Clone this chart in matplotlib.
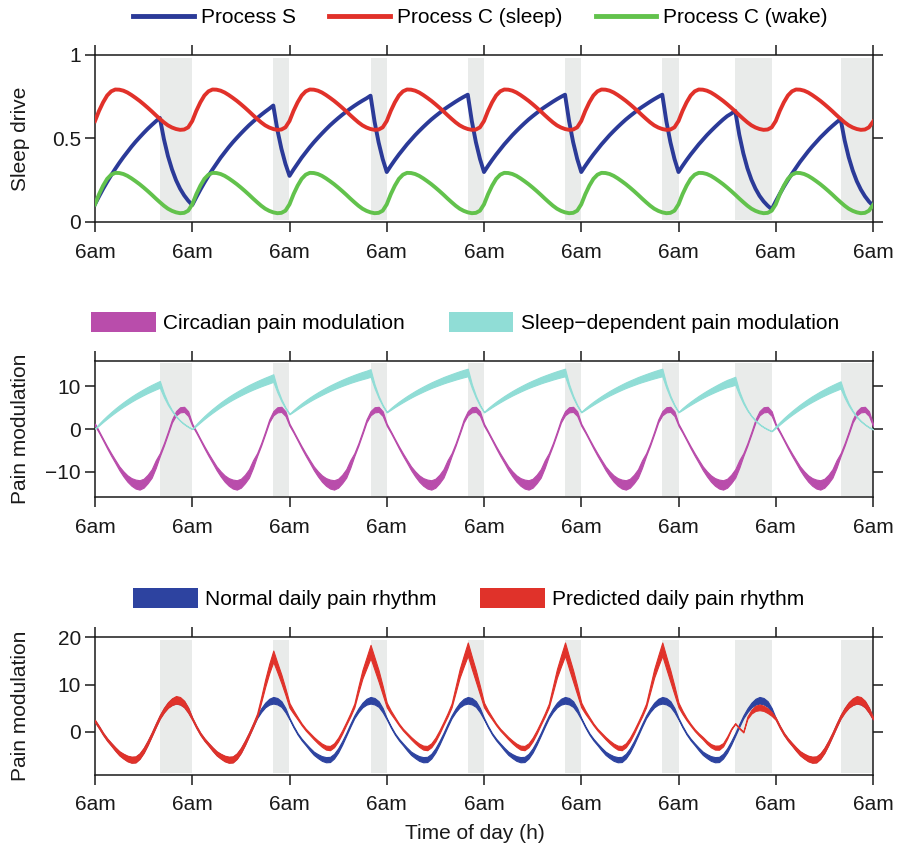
import matplotlib
matplotlib.use('Agg')
import matplotlib.pyplot as plt
from matplotlib.patches import Patch
from matplotlib.lines import Line2D
import numpy as np

plt.rcParams['font.family'] = ['Liberation Sans', 'DejaVu Sans']

# ---------------- data (hourly samples, hour 0 = 6am of day 1) ----------------
hours = list(range(0, 193))

sleep_start = [16, 44, 68, 92, 116, 140, 158, 184]
sleep_end = [24, 48, 72, 96, 120, 144, 167, 192]

day_ticks = [0, 24, 48, 72, 96, 120, 144, 168, 192]
day_labels = ['6am'] * 9

process_s = [
    0.105, 0.152, 0.197, 0.239, 0.279, 0.317, 0.353, 0.387, 0.419, 0.450, 0.479, 0.506, 0.532, 0.557, 0.580, 0.602, 0.623, 0.496, 0.394, 0.314, 0.249, 0.198, 0.158, 0.126,
    0.100, 0.147, 0.192, 0.235, 0.275, 0.313, 0.349, 0.384, 0.416, 0.447, 0.476, 0.503, 0.529, 0.554, 0.578, 0.600, 0.621, 0.641, 0.660, 0.678, 0.697, 0.552, 0.438, 0.347,
    0.275, 0.313, 0.349, 0.384, 0.416, 0.447, 0.476, 0.503, 0.529, 0.554, 0.578, 0.600, 0.621, 0.641, 0.660, 0.678, 0.695, 0.711, 0.726, 0.740, 0.756, 0.599, 0.475, 0.376,
    0.298, 0.335, 0.370, 0.403, 0.434, 0.464, 0.492, 0.519, 0.544, 0.568, 0.591, 0.613, 0.633, 0.652, 0.671, 0.688, 0.704, 0.720, 0.735, 0.749, 0.762, 0.603, 0.477, 0.377,
    0.298, 0.335, 0.370, 0.403, 0.434, 0.464, 0.492, 0.519, 0.544, 0.568, 0.591, 0.613, 0.633, 0.652, 0.671, 0.688, 0.704, 0.720, 0.735, 0.749, 0.762, 0.603, 0.477, 0.377,
    0.298, 0.335, 0.370, 0.403, 0.434, 0.464, 0.492, 0.519, 0.544, 0.568, 0.591, 0.613, 0.633, 0.652, 0.671, 0.688, 0.704, 0.720, 0.735, 0.749, 0.762, 0.603, 0.477, 0.377,
    0.298, 0.335, 0.370, 0.403, 0.434, 0.464, 0.492, 0.519, 0.544, 0.568, 0.591, 0.613, 0.633, 0.648, 0.665, 0.522, 0.410, 0.321, 0.252, 0.198, 0.155, 0.122, 0.096, 0.075,
    0.122, 0.167, 0.210, 0.250, 0.288, 0.324, 0.359, 0.391, 0.422, 0.451, 0.478, 0.505, 0.529, 0.553, 0.575, 0.596, 0.616, 0.488, 0.387, 0.307, 0.243, 0.193, 0.153, 0.121,
    0.096]

process_c_sleep = [
    0.604, 0.665, 0.716, 0.757, 0.782, 0.793, 0.792, 0.786, 0.775, 0.760, 0.743, 0.725, 0.705, 0.684, 0.662, 0.639, 0.617, 0.596, 0.578, 0.565, 0.556, 0.551, 0.553, 0.566,
    0.604, 0.665, 0.716, 0.757, 0.782, 0.793, 0.792, 0.786, 0.775, 0.760, 0.743, 0.725, 0.705, 0.684, 0.662, 0.639, 0.617, 0.596, 0.578, 0.565, 0.556, 0.551, 0.553, 0.566,
    0.604, 0.665, 0.716, 0.757, 0.782, 0.793, 0.792, 0.786, 0.775, 0.760, 0.743, 0.725, 0.705, 0.684, 0.662, 0.639, 0.617, 0.596, 0.578, 0.565, 0.556, 0.551, 0.553, 0.566,
    0.604, 0.665, 0.716, 0.757, 0.782, 0.793, 0.792, 0.786, 0.775, 0.760, 0.743, 0.725, 0.705, 0.684, 0.662, 0.639, 0.617, 0.596, 0.578, 0.565, 0.556, 0.551, 0.553, 0.566,
    0.604, 0.665, 0.716, 0.757, 0.782, 0.793, 0.792, 0.786, 0.775, 0.760, 0.743, 0.725, 0.705, 0.684, 0.662, 0.639, 0.617, 0.596, 0.578, 0.565, 0.556, 0.551, 0.553, 0.566,
    0.604, 0.665, 0.716, 0.757, 0.782, 0.793, 0.792, 0.786, 0.775, 0.760, 0.743, 0.725, 0.705, 0.684, 0.662, 0.639, 0.617, 0.596, 0.578, 0.565, 0.556, 0.551, 0.553, 0.566,
    0.604, 0.665, 0.716, 0.757, 0.782, 0.793, 0.792, 0.786, 0.775, 0.760, 0.743, 0.725, 0.705, 0.684, 0.662, 0.639, 0.617, 0.596, 0.578, 0.565, 0.556, 0.551, 0.553, 0.566,
    0.604, 0.665, 0.716, 0.757, 0.782, 0.793, 0.792, 0.786, 0.775, 0.760, 0.743, 0.725, 0.705, 0.684, 0.662, 0.639, 0.617, 0.596, 0.578, 0.565, 0.556, 0.551, 0.553, 0.566,
    0.600]

process_c_wake = [
    0.104, 0.165, 0.216, 0.257, 0.282, 0.293, 0.292, 0.286, 0.275, 0.260, 0.243, 0.225, 0.205, 0.184, 0.162, 0.139, 0.117, 0.096, 0.078, 0.065, 0.056, 0.051, 0.053, 0.066,
    0.104, 0.165, 0.216, 0.257, 0.282, 0.293, 0.292, 0.286, 0.275, 0.260, 0.243, 0.225, 0.205, 0.184, 0.162, 0.139, 0.117, 0.096, 0.078, 0.065, 0.056, 0.051, 0.053, 0.066,
    0.104, 0.165, 0.216, 0.257, 0.282, 0.293, 0.292, 0.286, 0.275, 0.260, 0.243, 0.225, 0.205, 0.184, 0.162, 0.139, 0.117, 0.096, 0.078, 0.065, 0.056, 0.051, 0.053, 0.066,
    0.104, 0.165, 0.216, 0.257, 0.282, 0.293, 0.292, 0.286, 0.275, 0.260, 0.243, 0.225, 0.205, 0.184, 0.162, 0.139, 0.117, 0.096, 0.078, 0.065, 0.056, 0.051, 0.053, 0.066,
    0.104, 0.165, 0.216, 0.257, 0.282, 0.293, 0.292, 0.286, 0.275, 0.260, 0.243, 0.225, 0.205, 0.184, 0.162, 0.139, 0.117, 0.096, 0.078, 0.065, 0.056, 0.051, 0.053, 0.066,
    0.104, 0.165, 0.216, 0.257, 0.282, 0.293, 0.292, 0.286, 0.275, 0.260, 0.243, 0.225, 0.205, 0.184, 0.162, 0.139, 0.117, 0.096, 0.078, 0.065, 0.056, 0.051, 0.053, 0.066,
    0.104, 0.165, 0.216, 0.257, 0.282, 0.293, 0.292, 0.286, 0.275, 0.260, 0.243, 0.225, 0.205, 0.184, 0.162, 0.139, 0.117, 0.096, 0.078, 0.065, 0.056, 0.051, 0.053, 0.066,
    0.104, 0.165, 0.216, 0.257, 0.282, 0.293, 0.292, 0.286, 0.275, 0.260, 0.243, 0.225, 0.205, 0.184, 0.162, 0.139, 0.117, 0.096, 0.078, 0.065, 0.056, 0.051, 0.053, 0.066,
    0.100]

circadian_mid = [
    1.0, -0.7, -2.5, -4.3, -6.0, -7.6, -9.2, -10.5, -11.6, -12.4, -12.9, -13.1, -12.7, -11.7, -10.4, -8.2, -6.0, -3.6, -0.9, 1.9, 3.7, 4.5, 4.6, 3.6,
    1.0, -0.7, -2.5, -4.3, -6.0, -7.6, -9.2, -10.5, -11.6, -12.4, -12.9, -13.1, -12.7, -11.7, -10.4, -8.2, -6.0, -3.6, -0.9, 1.9, 3.7, 4.5, 4.6, 3.6,
    1.0, -0.7, -2.5, -4.3, -6.0, -7.6, -9.2, -10.5, -11.6, -12.4, -12.9, -13.1, -12.7, -11.7, -10.4, -8.2, -6.0, -3.6, -0.9, 1.9, 3.7, 4.5, 4.6, 3.6,
    1.0, -0.7, -2.5, -4.3, -6.0, -7.6, -9.2, -10.5, -11.6, -12.4, -12.9, -13.1, -12.7, -11.7, -10.4, -8.2, -6.0, -3.6, -0.9, 1.9, 3.7, 4.5, 4.6, 3.6,
    1.0, -0.7, -2.5, -4.3, -6.0, -7.6, -9.2, -10.5, -11.6, -12.4, -12.9, -13.1, -12.7, -11.7, -10.4, -8.2, -6.0, -3.6, -0.9, 1.9, 3.7, 4.5, 4.6, 3.6,
    1.0, -0.7, -2.5, -4.3, -6.0, -7.6, -9.2, -10.5, -11.6, -12.4, -12.9, -13.1, -12.7, -11.7, -10.4, -8.2, -6.0, -3.6, -0.9, 1.9, 3.7, 4.5, 4.6, 3.6,
    1.0, -0.7, -2.5, -4.3, -6.0, -7.6, -9.2, -10.5, -11.6, -12.4, -12.9, -13.1, -12.7, -11.7, -10.4, -8.2, -6.0, -3.6, -0.9, 1.9, 3.7, 4.5, 4.6, 3.6,
    1.0, -0.7, -2.5, -4.3, -6.0, -7.6, -9.2, -10.5, -11.6, -12.4, -12.9, -13.1, -12.7, -11.7, -10.4, -8.2, -6.0, -3.6, -0.9, 1.9, 3.7, 4.5, 4.6, 3.6,
    1.0]
circadian_half = [
    0.25, 0.2, 0.2, 0.25, 0.3, 0.35, 0.45, 0.6, 0.75, 0.9, 1.05, 1.1, 1.05, 1.0, 1.0, 0.9, 0.35, 0.3, 0.3, 0.35, 0.5, 0.6, 0.6, 0.55,
    0.25, 0.2, 0.2, 0.25, 0.3, 0.35, 0.45, 0.6, 0.75, 0.9, 1.05, 1.1, 1.05, 1.0, 1.0, 0.9, 0.35, 0.3, 0.3, 0.35, 0.5, 0.6, 0.6, 0.55,
    0.25, 0.2, 0.2, 0.25, 0.3, 0.35, 0.45, 0.6, 0.75, 0.9, 1.05, 1.1, 1.05, 1.0, 1.0, 0.9, 0.35, 0.3, 0.3, 0.35, 0.5, 0.6, 0.6, 0.55,
    0.25, 0.2, 0.2, 0.25, 0.3, 0.35, 0.45, 0.6, 0.75, 0.9, 1.05, 1.1, 1.05, 1.0, 1.0, 0.9, 0.35, 0.3, 0.3, 0.35, 0.5, 0.6, 0.6, 0.55,
    0.25, 0.2, 0.2, 0.25, 0.3, 0.35, 0.45, 0.6, 0.75, 0.9, 1.05, 1.1, 1.05, 1.0, 1.0, 0.9, 0.35, 0.3, 0.3, 0.35, 0.5, 0.6, 0.6, 0.55,
    0.25, 0.2, 0.2, 0.25, 0.3, 0.35, 0.45, 0.6, 0.75, 0.9, 1.05, 1.1, 1.05, 1.0, 1.0, 0.9, 0.35, 0.3, 0.3, 0.35, 0.5, 0.6, 0.6, 0.55,
    0.25, 0.2, 0.2, 0.25, 0.3, 0.35, 0.45, 0.6, 0.75, 0.9, 1.05, 1.1, 1.05, 1.0, 1.0, 0.9, 0.35, 0.3, 0.3, 0.35, 0.5, 0.6, 0.6, 0.55,
    0.25, 0.2, 0.2, 0.25, 0.3, 0.35, 0.45, 0.6, 0.75, 0.9, 1.05, 1.1, 1.05, 1.0, 1.0, 0.9, 0.35, 0.3, 0.3, 0.35, 0.5, 0.6, 0.6, 0.55,
    0.25]

sleepdep_mid = [
    0.10, 1.04, 1.94, 2.78, 3.58, 4.34, 5.06, 5.74, 6.38, 7.00, 7.58, 8.12, 8.64, 9.14, 9.60, 10.04, 10.46, 7.92, 5.88, 4.28, 2.98, 1.96, 1.16, 0.52,
    0.00, 0.94, 1.84, 2.70, 3.50, 4.26, 4.98, 5.68, 6.32, 6.94, 7.52, 8.06, 8.58, 9.08, 9.56, 10.00, 10.42, 10.82, 11.20, 11.56, 11.94, 9.04, 6.76, 4.94,
    3.50, 4.26, 4.98, 5.68, 6.32, 6.94, 7.52, 8.06, 8.58, 9.08, 9.56, 10.00, 10.42, 10.82, 11.20, 11.56, 11.90, 12.22, 12.52, 12.80, 13.12, 9.98, 7.50, 5.52,
    3.96, 4.70, 5.40, 6.06, 6.68, 7.28, 7.84, 8.38, 8.88, 9.36, 9.82, 10.26, 10.66, 11.04, 11.42, 11.76, 12.08, 12.40, 12.70, 12.98, 13.24, 10.06, 7.54, 5.54,
    3.96, 4.70, 5.40, 6.06, 6.68, 7.28, 7.84, 8.38, 8.88, 9.36, 9.82, 10.26, 10.66, 11.04, 11.42, 11.76, 12.08, 12.40, 12.70, 12.98, 13.24, 10.06, 7.54, 5.54,
    3.96, 4.70, 5.40, 6.06, 6.68, 7.28, 7.84, 8.38, 8.88, 9.36, 9.82, 10.26, 10.66, 11.04, 11.42, 11.76, 12.08, 12.40, 12.70, 12.98, 13.24, 10.06, 7.54, 5.54,
    3.96, 4.70, 5.40, 6.06, 6.68, 7.28, 7.84, 8.38, 8.88, 9.36, 9.82, 10.26, 10.66, 10.96, 11.30, 8.44, 6.20, 4.42, 3.04, 1.96, 1.10, 0.44, -0.08, -0.50,
    0.44, 1.34, 2.20, 3.00, 3.76, 4.48, 5.18, 5.82, 6.44, 7.02, 7.56, 8.10, 8.58, 9.06, 9.50, 9.92, 10.32, 7.76, 5.74, 4.14, 2.86, 1.86, 1.06, 0.42,
    -0.08]
sleepdep_half = [
    0.03, 0.2, 0.28, 0.35, 0.4, 0.45, 0.49, 0.53, 0.57, 0.6, 0.63, 0.66, 0.69, 0.72, 0.75, 0.77, 0.8, 0.45, 0.25, 0.12, 0.06, 0.04, 0.04, 0.04,
    0.04, 0.2, 0.28, 0.35, 0.4, 0.45, 0.49, 0.53, 0.57, 0.6, 0.63, 0.66, 0.69, 0.72, 0.75, 0.77, 0.8, 0.82, 0.85, 0.87, 0.89, 0.45, 0.25, 0.12,
    0.06, 0.2, 0.28, 0.35, 0.4, 0.45, 0.49, 0.53, 0.57, 0.6, 0.63, 0.66, 0.69, 0.72, 0.75, 0.77, 0.8, 0.82, 0.85, 0.87, 0.89, 0.45, 0.25, 0.12,
    0.06, 0.2, 0.28, 0.35, 0.4, 0.45, 0.49, 0.53, 0.57, 0.6, 0.63, 0.66, 0.69, 0.72, 0.75, 0.77, 0.8, 0.82, 0.85, 0.87, 0.89, 0.45, 0.25, 0.12,
    0.06, 0.2, 0.28, 0.35, 0.4, 0.45, 0.49, 0.53, 0.57, 0.6, 0.63, 0.66, 0.69, 0.72, 0.75, 0.77, 0.8, 0.82, 0.85, 0.87, 0.89, 0.45, 0.25, 0.12,
    0.06, 0.2, 0.28, 0.35, 0.4, 0.45, 0.49, 0.53, 0.57, 0.6, 0.63, 0.66, 0.69, 0.72, 0.75, 0.77, 0.8, 0.82, 0.85, 0.87, 0.89, 0.45, 0.25, 0.12,
    0.06, 0.22, 0.3, 0.38, 0.44, 0.5, 0.55, 0.6, 0.65, 0.7, 0.75, 0.8, 0.85, 0.9, 0.94, 0.45, 0.25, 0.12, 0.06, 0.04, 0.04, 0.04, 0.04, 0.04,
    0.2, 0.28, 0.35, 0.4, 0.45, 0.5, 0.54, 0.58, 0.62, 0.66, 0.69, 0.72, 0.75, 0.78, 0.8, 0.83, 0.85, 0.45, 0.25, 0.12, 0.06, 0.04, 0.04, 0.04,
    0.04]

normal_mid = [
    2.3, 1.0, -0.4, -1.6, -2.6, -3.6, -4.5, -5.1, -5.6, -5.85, -5.8, -5.1, -3.9, -2.3, -0.5, 1.4, 3.2, 4.6, 5.7, 6.4, 6.7, 6.5, 5.9, 4.6,
    2.8, 1.1, -0.4, -1.6, -2.6, -3.6, -4.5, -5.1, -5.6, -5.85, -5.8, -5.1, -3.9, -2.3, -0.5, 1.4, 3.2, 4.6, 5.7, 6.4, 6.7, 6.5, 5.9, 4.6,
    2.8, 1.1, -0.4, -1.6, -2.6, -3.6, -4.5, -5.1, -5.6, -5.85, -5.8, -5.1, -3.9, -2.3, -0.5, 1.4, 3.2, 4.6, 5.7, 6.4, 6.7, 6.5, 5.9, 4.6,
    2.8, 1.1, -0.4, -1.6, -2.6, -3.6, -4.5, -5.1, -5.6, -5.85, -5.8, -5.1, -3.9, -2.3, -0.5, 1.4, 3.2, 4.6, 5.7, 6.4, 6.7, 6.5, 5.9, 4.6,
    2.8, 1.1, -0.4, -1.6, -2.6, -3.6, -4.5, -5.1, -5.6, -5.85, -5.8, -5.1, -3.9, -2.3, -0.5, 1.4, 3.2, 4.6, 5.7, 6.4, 6.7, 6.5, 5.9, 4.6,
    2.8, 1.1, -0.4, -1.6, -2.6, -3.6, -4.5, -5.1, -5.6, -5.85, -5.8, -5.1, -3.9, -2.3, -0.5, 1.4, 3.2, 4.6, 5.7, 6.4, 6.7, 6.5, 5.9, 4.6,
    2.8, 1.1, -0.4, -1.6, -2.6, -3.6, -4.5, -5.1, -5.6, -5.85, -5.8, -5.1, -3.9, -2.3, -0.5, 1.4, 3.2, 4.6, 5.7, 6.4, 6.7, 6.5, 5.9, 4.6,
    2.8, 1.1, -0.4, -1.6, -2.6, -3.6, -4.5, -5.1, -5.6, -5.85, -5.8, -5.1, -3.9, -2.3, -0.5, 1.4, 3.2, 4.6, 5.7, 6.4, 6.7, 6.5, 5.9, 4.6,
    2.8]
normal_half = [
    0.15, 0.15, 0.15, 0.18, 0.2, 0.28, 0.35, 0.42, 0.5, 0.55, 0.55, 0.5, 0.45, 0.38, 0.3, 0.3, 0.3, 0.4, 0.5, 0.62, 0.7, 0.68, 0.6, 0.45,
    0.15, 0.15, 0.15, 0.18, 0.2, 0.28, 0.35, 0.42, 0.5, 0.55, 0.55, 0.5, 0.45, 0.38, 0.3, 0.3, 0.3, 0.4, 0.5, 0.62, 0.7, 0.68, 0.6, 0.45,
    0.15, 0.15, 0.15, 0.18, 0.2, 0.28, 0.35, 0.42, 0.5, 0.55, 0.55, 0.5, 0.45, 0.38, 0.3, 0.3, 0.3, 0.4, 0.5, 0.62, 0.7, 0.68, 0.6, 0.45,
    0.15, 0.15, 0.15, 0.18, 0.2, 0.28, 0.35, 0.42, 0.5, 0.55, 0.55, 0.5, 0.45, 0.38, 0.3, 0.3, 0.3, 0.4, 0.5, 0.62, 0.7, 0.68, 0.6, 0.45,
    0.15, 0.15, 0.15, 0.18, 0.2, 0.28, 0.35, 0.42, 0.5, 0.55, 0.55, 0.5, 0.45, 0.38, 0.3, 0.3, 0.3, 0.4, 0.5, 0.62, 0.7, 0.68, 0.6, 0.45,
    0.15, 0.15, 0.15, 0.18, 0.2, 0.28, 0.35, 0.42, 0.5, 0.55, 0.55, 0.5, 0.45, 0.38, 0.3, 0.3, 0.3, 0.4, 0.5, 0.62, 0.7, 0.68, 0.6, 0.45,
    0.15, 0.15, 0.15, 0.18, 0.2, 0.28, 0.35, 0.42, 0.5, 0.55, 0.55, 0.5, 0.45, 0.38, 0.3, 0.3, 0.3, 0.4, 0.5, 0.62, 0.7, 0.68, 0.6, 0.45,
    0.15, 0.15, 0.15, 0.18, 0.2, 0.28, 0.35, 0.42, 0.5, 0.55, 0.55, 0.5, 0.45, 0.38, 0.3, 0.3, 0.3, 0.4, 0.5, 0.62, 0.7, 0.68, 0.6, 0.45,
    0.15]

predicted_mid = [
    2.3, 1.0, -0.4, -1.6, -2.6, -3.6, -4.5, -5.1, -5.6, -5.85, -5.8, -5.1, -3.9, -2.3, -0.5, 1.4, 3.2, 4.6, 5.7, 6.4, 6.8, 6.6, 5.9, 4.6,
    2.8, 1.1, -0.4, -1.6, -2.6, -3.6, -4.5, -5.1, -5.6, -5.85, -5.8, -5.1, -3.9, -2.3, -0.5, 1.4, 3.5, 6.8, 10.3, 13.4, 16.0, 13.6, 11.2, 8.5,
    5.6, 4.2, 2.9, 1.6, 0.5, -0.4, -1.3, -2.1, -2.8, -3.3, -3.4, -2.8, -1.6, 0.0, 1.8, 3.6, 5.6, 9.0, 12.2, 14.6, 17.0, 14.4, 11.8, 8.8,
    5.7, 4.2, 2.9, 1.6, 0.5, -0.4, -1.3, -2.1, -2.8, -3.3, -3.4, -2.8, -1.6, 0.0, 1.8, 3.6, 5.6, 9.0, 12.4, 15.0, 17.5, 14.6, 11.8, 8.8,
    5.7, 4.2, 2.9, 1.6, 0.5, -0.4, -1.3, -2.1, -2.8, -3.3, -3.4, -2.8, -1.6, 0.0, 1.8, 3.6, 5.6, 9.0, 12.4, 15.0, 17.5, 14.6, 11.8, 8.8,
    5.7, 4.2, 2.9, 1.6, 0.5, -0.4, -1.3, -2.1, -2.8, -3.3, -3.4, -2.8, -1.6, 0.0, 1.8, 3.6, 5.6, 9.0, 12.4, 15.0, 17.5, 14.6, 11.8, 8.8,
    5.7, 4.1, 2.7, 1.5, 0.4, -0.5, -1.3, -2.2, -2.9, -3.3, -3.3, -2.7, -1.2, 0.6, 1.8, 0.8, 0.0, 3.0, 4.3, 5.0, 5.2, 5.0, 4.5, 3.8,
    2.8, 1.1, -0.4, -1.6, -2.6, -3.6, -4.5, -5.1, -5.6, -5.85, -5.8, -5.1, -3.9, -2.3, -0.5, 1.4, 3.2, 4.6, 5.7, 6.4, 6.8, 6.6, 5.9, 4.6,
    2.9]
predicted_half = [
    0.25, 0.25, 0.25, 0.28, 0.3, 0.38, 0.45, 0.52, 0.6, 0.65, 0.65, 0.6, 0.55, 0.48, 0.4, 0.4, 0.4, 0.5, 0.6, 0.72, 0.8, 0.78, 0.7, 0.55,
    0.25, 0.25, 0.25, 0.28, 0.3, 0.38, 0.45, 0.52, 0.6, 0.65, 0.65, 0.6, 0.55, 0.48, 0.4, 0.4, 0.4, 0.55, 0.8, 1.0, 1.2, 1.0, 0.9, 0.7,
    0.5, 0.35, 0.25, 0.2, 0.2, 0.22, 0.25, 0.3, 0.35, 0.42, 0.45, 0.42, 0.4, 0.35, 0.3, 0.35, 0.4, 0.65, 0.9, 1.15, 1.4, 1.3, 1.2, 0.9,
    0.5, 0.35, 0.25, 0.2, 0.2, 0.22, 0.25, 0.3, 0.35, 0.42, 0.45, 0.42, 0.4, 0.35, 0.3, 0.35, 0.4, 0.65, 0.9, 1.15, 1.4, 1.3, 1.2, 0.9,
    0.5, 0.35, 0.25, 0.2, 0.2, 0.22, 0.25, 0.3, 0.35, 0.42, 0.45, 0.42, 0.4, 0.35, 0.3, 0.35, 0.4, 0.65, 0.9, 1.15, 1.4, 1.3, 1.2, 0.9,
    0.5, 0.35, 0.25, 0.2, 0.2, 0.22, 0.25, 0.3, 0.35, 0.42, 0.45, 0.42, 0.4, 0.35, 0.3, 0.35, 0.4, 0.65, 0.9, 1.15, 1.4, 1.3, 1.2, 0.9,
    0.5, 0.35, 0.25, 0.2, 0.2, 0.22, 0.25, 0.3, 0.35, 0.42, 0.45, 0.35, 0.25, 0.12, 0.08, 0.08, 0.1, 0.25, 0.4, 0.55, 0.6, 0.55, 0.5, 0.4,
    0.25, 0.25, 0.25, 0.28, 0.3, 0.38, 0.45, 0.52, 0.6, 0.65, 0.65, 0.6, 0.55, 0.48, 0.4, 0.4, 0.4, 0.5, 0.6, 0.72, 0.8, 0.78, 0.7, 0.55,
    0.25]

# ---------------- style ----------------
C_S = '#2b3a98'
C_CS = '#e1312a'
C_CW = '#62c24c'
C_CIRC = '#b94dab'
C_SLEEP = '#90ddd6'
C_NORM = '#2d43a0'
C_PRED = '#e0322a'
C_BAND = '#e9ebea'
FS = 15

fig = plt.figure(figsize=(8.98, 8.46), dpi=100)
W = 778 / 898
L = 95 / 898
ax1 = fig.add_axes([L, 1 - 221.7 / 846, W, 166.7 / 846])
ax2 = fig.add_axes([L, 1 - 497.3 / 846, W, 136.6 / 846])
ax3 = fig.add_axes([L, 1 - 774.6 / 846, W, 137.3 / 846])

t = np.array(hours)


def style(ax, ylim, yticks, ylabels, ylabel):
    for s0, s1 in zip(sleep_start, sleep_end):
        ax.axvspan(s0, s1, ymin=0.012, ymax=0.982, color=C_BAND, lw=0, zorder=0)
    ax.set_xlim(0, 192)
    ax.set_ylim(*ylim)
    ax.set_xticks(day_ticks)
    ax.set_xticklabels(day_labels)
    ax.set_yticks(yticks)
    ax.set_yticklabels(ylabels)
    ax.tick_params(axis='both', direction='out', length=7, width=1.1,
                   labelsize=FS, top=True, right=True, colors='#1a1a1a')
    ax.tick_params(axis='x', pad=8)
    ax.tick_params(axis='y', pad=3)
    for sp in ax.spines.values():
        sp.set_linewidth(1.1)
        sp.set_color('#1a1a1a')
    ax.set_ylabel(ylabel, fontsize=FS, color='#1a1a1a')
    ax.yaxis.set_label_coords(-0.084, 0.5)


# Panel 1
style(ax1, (0, 1), [0, 0.5, 1], ['0', '0.5', '1'], 'Sleep drive')
ax1.plot(t, process_s, color=C_S, lw=2.8, zorder=3)
ax1.plot(t, process_c_sleep, color=C_CS, lw=2.8, zorder=4)
ax1.plot(t, process_c_wake, color=C_CW, lw=2.8, zorder=5)
h1 = [Line2D([], [], color=C_S, lw=3.5), Line2D([], [], color=C_CS, lw=3.5),
      Line2D([], [], color=C_CW, lw=3.5)]
fig.legend(h1, ['Process S', 'Process C (sleep)', 'Process C (wake)'],
           loc='center', bbox_to_anchor=(0.535, 0.979), ncol=3, frameon=False,
           fontsize=FS, handlelength=2.9, handletextpad=0.35, columnspacing=1.6)

# Panel 2
style(ax2, (-16, 16), [-10, 0, 10], ['\u221210', '0', '10'], 'Pain modulation')
cm = np.array(circadian_mid); ch = np.array(circadian_half)
sm = np.array(sleepdep_mid); sh = np.array(sleepdep_half)
ax2.fill_between(t, cm - ch, cm + ch, facecolor=C_CIRC, edgecolor=C_CIRC, lw=0.8, zorder=3)
ax2.fill_between(t, sm - sh, sm + sh, facecolor=C_SLEEP, edgecolor=C_SLEEP, lw=0.8, zorder=4)
h2 = [Patch(facecolor=C_CIRC), Patch(facecolor=C_SLEEP)]
fig.legend(h2, ['Circadian pain modulation', 'Sleep\u2212dependent pain modulation'],
           loc='center', bbox_to_anchor=(0.518, 0.619), ncol=2, frameon=False,
           fontsize=FS, handlelength=3.1, handleheight=1.1, handletextpad=0.35,
           columnspacing=2.1)

# Panel 3
style(ax3, (-9, 20), [0, 10, 20], ['0', '10', '20'], 'Pain modulation')
nm = np.array(normal_mid); nh = np.array(normal_half)
pm = np.array(predicted_mid); ph = np.array(predicted_half)
ax3.fill_between(t, nm - nh, nm + nh, facecolor=C_NORM, edgecolor=C_NORM, lw=0.8, zorder=3)
ax3.fill_between(t, pm - ph, pm + ph, facecolor=C_PRED, edgecolor=C_PRED, lw=0.8, zorder=4)
h3 = [Patch(facecolor=C_NORM), Patch(facecolor=C_PRED)]
fig.legend(h3, ['Normal daily pain rhythm', 'Predicted daily pain rhythm'],
           loc='center', bbox_to_anchor=(0.522, 0.293), ncol=2, frameon=False,
           fontsize=FS, handlelength=3.1, handleheight=1.1, handletextpad=0.35,
           columnspacing=2.1)
fig.text(475 / 898, 1 - 833 / 846, 'Time of day (h)', ha='center', va='center',
         fontsize=FS, color='#1a1a1a')

fig.savefig('out.png', dpi=100)
